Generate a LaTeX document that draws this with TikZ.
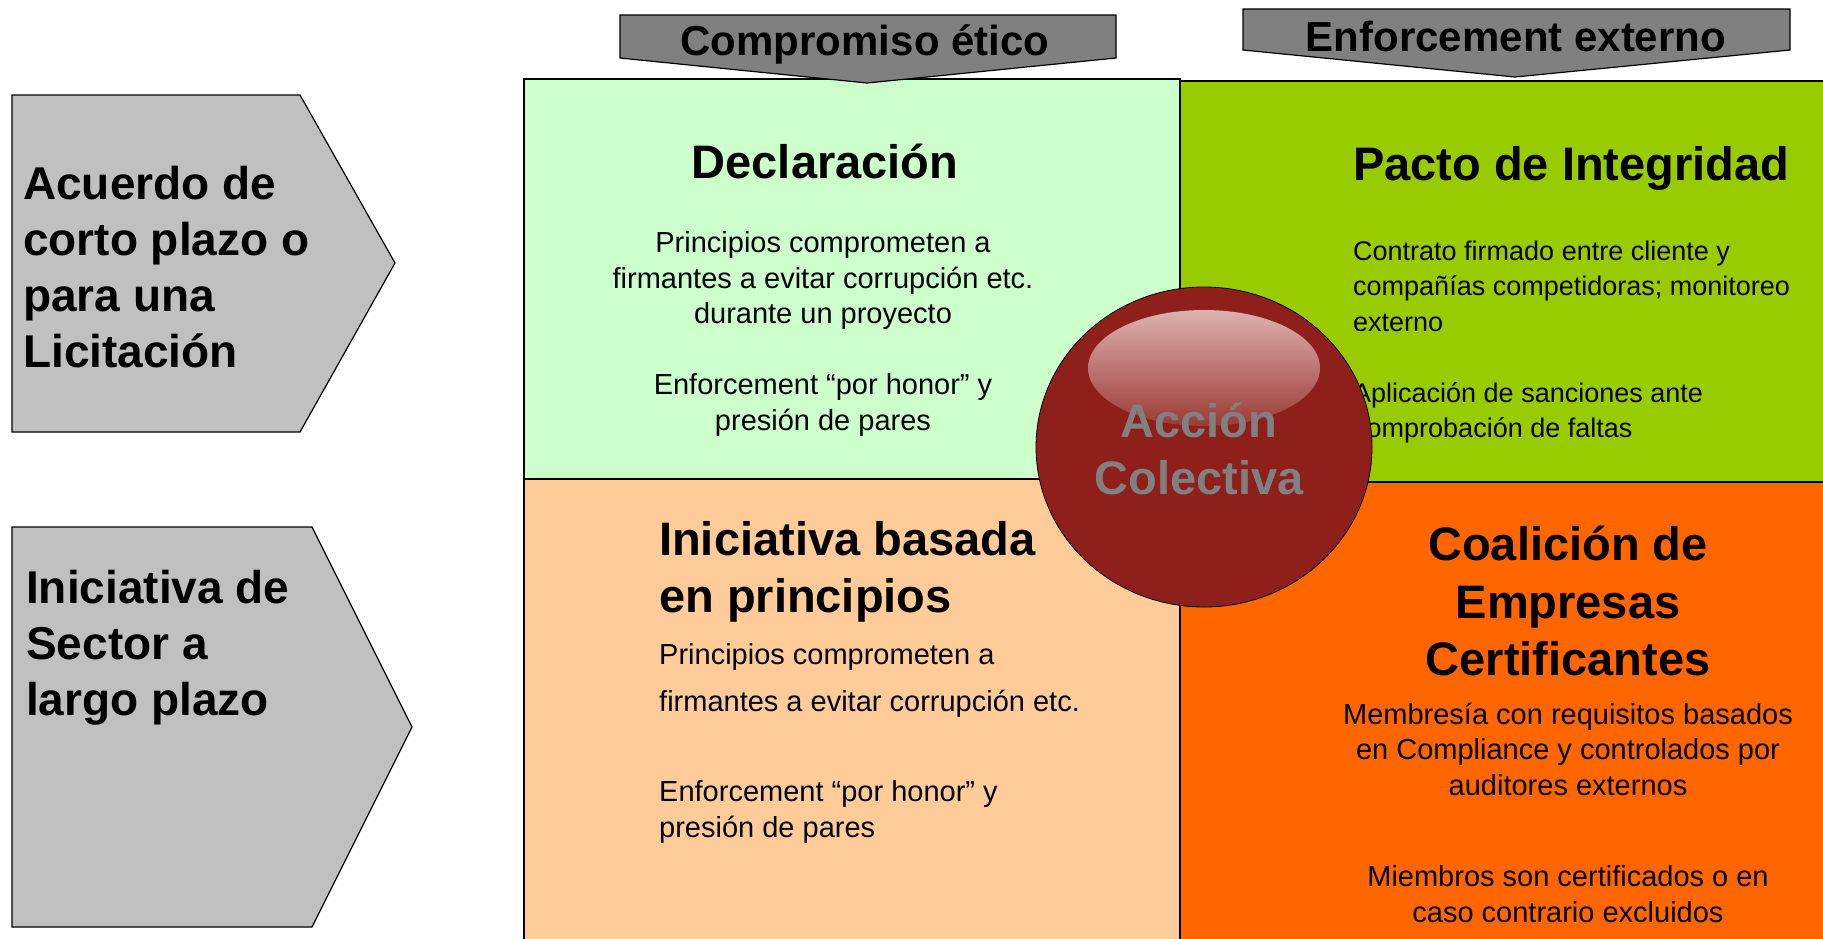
\documentclass[tikz,border=0pt]{standalone}
\usepackage{fontspec}
\setmainfont{Liberation Sans}
\usetikzlibrary{positioning}

\definecolor{declGreen}{HTML}{CCFFCC}
\definecolor{pactGreen}{HTML}{99CC00}
\definecolor{initPeach}{HTML}{FFCC99}
\definecolor{coalOrange}{HTML}{FF6600}
\definecolor{sideGray}{HTML}{C0C0C0}
\definecolor{bannerGray}{HTML}{808080}
\definecolor{ballRed}{HTML}{8F1F1B}
\definecolor{ballShine}{HTML}{DDB2AF}
\definecolor{ballShineLow}{HTML}{9C3A35}

\tikzset{
  quad/.style={draw=black, line width=1.2pt},
  shapeline/.style={draw=black, line width=1.2pt},
  heading/.style={font=\fontsize{47}{57.5}\selectfont\bfseries, inner sep=0pt},
  bodytxt/.style={font=\fontsize{29}{35.5}\selectfont, inner sep=0pt},
  sidetxt/.style={font=\fontsize{46}{56}\selectfont\bfseries, inner sep=0pt, align=left, anchor=west},
  bannertxt/.style={font=\fontsize{42}{50}\selectfont\bfseries, inner sep=0pt},
}

\begin{document}
\begin{tikzpicture}[x=1pt, y=-1pt]
    \clip (0,0) rectangle (1823,938);
    % quadrants
    \draw [quad, fill=declGreen] (524,79) rectangle (1180,479);
    \draw [quad, fill=pactGreen] (1180,81) rectangle (1835,482);
    \draw [quad, fill=initPeach] (524,479) rectangle (1180,950);
    \draw [quad, fill=coalOrange] (1180,482) rectangle (1835,950);
    % side arrows
    \draw [shapeline, fill=sideGray] (12,95) -- (300,95) -- (395,263) -- (300,432) -- (12,432) -- cycle;
    \draw [shapeline, fill=sideGray] (12,527) -- (312,527) -- (412,727) -- (312,927) -- (12,927) -- cycle;
    % banners
    \draw [shapeline, fill=bannerGray] (620,15) -- (1116,15) -- (1116,58) -- (867,83) -- (620,58) -- cycle;
    \draw [shapeline, fill=bannerGray] (1243,9) -- (1790,9) -- (1790,50) -- (1515,77) -- (1243,50) -- cycle;
    \node [bannertxt] (etico) at (865,44) {Compromiso ético};
    \node [bannertxt] (externo) at (1516,36) {Enforcement externo};
    % side labels
    \node [sidetxt] (corto) at (23,267) {Acuerdo de\\corto plazo o\\para una\\Licitación};
    \node [sidetxt] (largo) at (26,648) {Iniciativa de\\Sector a\\largo plazo};
    % declaracion
    \node [heading] (decl) at (825,161) {Declaración};
    \node [bodytxt, align=center] (declbody) at (823,334) {Principios comprometen a\\firmantes a evitar corrupción etc.\\durante un proyecto\\[35.5pt]Enforcement “por honor” y\\presión de pares};
    % pacto
    \node [heading, anchor=west] (pacto) at (1353,168) {Pacto de Integridad};
    \node [bodytxt, font=\fontsize{27}{35.5}\selectfont, align=left, anchor=west] (pactobody) at (1353,342) {Contrato firmado entre cliente y\\compañías competidoras; monitoreo\\externo\\[35.5pt]Aplicación de sanciones ante\\comprobación de faltas};
    % iniciativa
    \node [heading, align=left, anchor=west] (inic) at (659,572) {Iniciativa basada\\en principios};
    \node [bodytxt, font=\fontsize{29}{47}\selectfont, align=left, anchor=west] (inicbody) at (659,680) {Principios comprometen a\\firmantes a evitar corrupción etc.};
    \node [bodytxt, align=left, anchor=west] (inichonor) at (659,812) {Enforcement “por honor” y\\presión de pares};
    % coalicion
    \node [heading, align=center] (coal) at (1568,601) {Coalición de\\Empresas\\Certificantes};
    \node [bodytxt, align=center] (coalbody) at (1568,749) {Membresía con requisitos basados\\en Compliance y controlados por\\auditores externos};
    \node [bodytxt, align=center] (coalmiem) at (1568,894) {Miembros son certificados o en\\caso contrario excluidos};
    % accion colectiva
    \draw [line width=0.8pt, fill=ballRed] (1204,447) ellipse [x radius=168, y radius=160];
    \shade [top color=ballShine, bottom color=ballShineLow] (1204,368) ellipse [x radius=116, y radius=58];
    \node [heading, text=bannerGray, align=center] (accion) at (1199,449) {Acción\\Colectiva};
\end{tikzpicture}
\end{document}
